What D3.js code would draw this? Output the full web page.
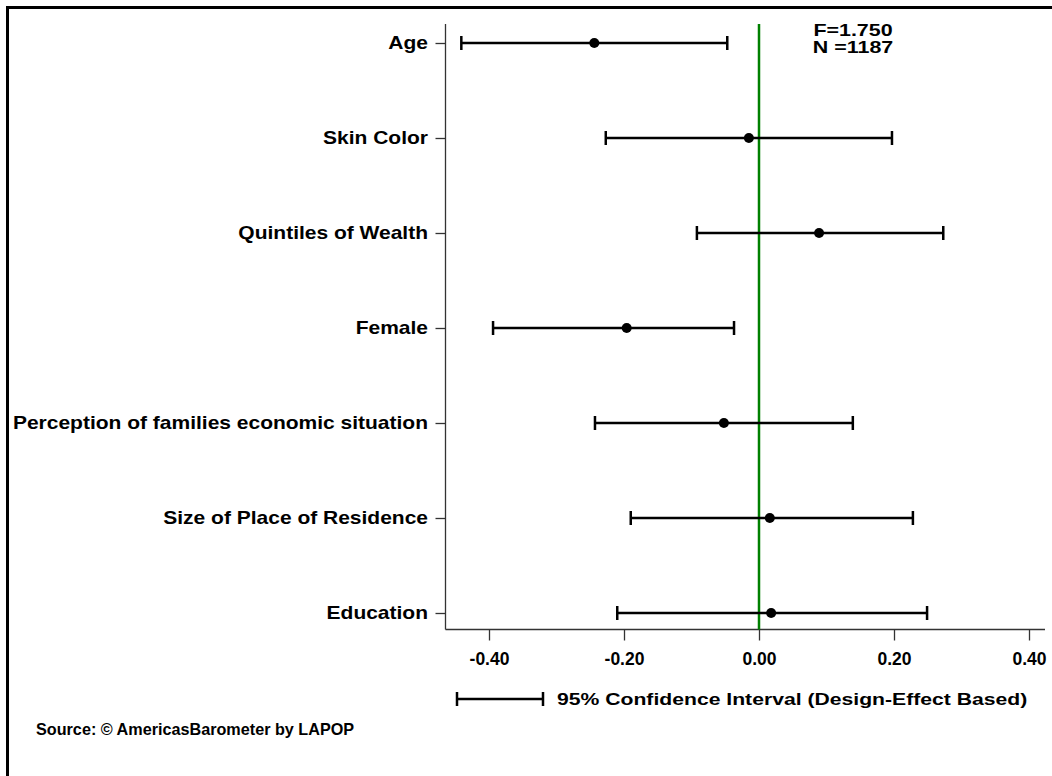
<!DOCTYPE html>
<html><head><meta charset="utf-8">
<script src="https://cdn.jsdelivr.net/npm/d3@7"></script>
<style>body{margin:0;background:#fff}svg{display:block}text{font-family:"Liberation Sans",Arial,sans-serif;font-weight:bold;fill:#000}</style>
</head><body><svg id="c" width="1052" height="776"></svg>
<script>
const categories = ["Age","Skin Color","Quintiles of Wealth","Female","Perception of families economic situation","Size of Place of Residence","Education"];
const estimates = [-0.244,-0.015,0.089,-0.196,-0.052,0.016,0.018];
const lower = [-0.441,-0.227,-0.092,-0.394,-0.243,-0.190,-0.210];
const upper = [-0.047,0.197,0.273,-0.037,0.139,0.228,0.249];
const xTicks = [-0.4,-0.2,0,0.2,0.4];
const statLines = ["F=1.750","N =1187"];
const legendText = "95% Confidence Interval (Design-Effect Based)";
const sourceText = "Source: \u00A9 AmericasBarometer by LAPOP";

const svg = d3.select("#c");
function wideText(parent, tx, ty, str, size, sx, anchor){
  return parent.append("text")
    .attr("transform",`translate(${tx},${ty}) scale(${sx},1)`)
    .attr("text-anchor",anchor||"start")
    .style("font-size",size+"px").text(str);
}
// frame
svg.append("line").attr("x1",7).attr("x2",1052).attr("y1",7.5).attr("y2",7.5).attr("stroke","#000").attr("stroke-width",3);
svg.append("line").attr("x1",7.5).attr("x2",7.5).attr("y1",6).attr("y2",776).attr("stroke","#000").attr("stroke-width",3);

const x = d3.scaleLinear().domain([-0.4,0.4]).range([489,1029]);
const y = d3.scalePoint().domain(categories).range([43,613]);
const axLeft = 445.5, axBottom = 629.5, axTop = 24, axRight = 1045;

// x axis
const gx = svg.append("g").attr("transform",`translate(0,${axBottom})`)
  .call(d3.axisBottom(x).tickValues(xTicks).tickFormat(d=>d3.format(".2f")(d).replace("\u2212","-")).tickSize(11).tickPadding(12));
gx.select(".domain").remove();
gx.selectAll(".tick line").attr("stroke","#333").attr("stroke-width",1.3);
gx.selectAll(".tick text").style("font-size","17.5px").attr("dy","0.71em");
svg.append("line").attr("x1",axLeft).attr("x2",axRight).attr("y1",axBottom).attr("y2",axBottom).attr("stroke","#333").attr("stroke-width",1.3);

// y axis
const gy = svg.append("g").attr("transform",`translate(${axLeft},0)`)
  .call(d3.axisLeft(y).tickSize(10).tickFormat(""));
gy.select(".domain").remove();
gy.selectAll(".tick line").attr("stroke","#333").attr("stroke-width",1.3);
categories.forEach(c=>{
  wideText(svg, 428, y(c)+6, c, 17.5, 1.2, "end");
});
svg.append("line").attr("x1",axLeft).attr("x2",axLeft).attr("y1",axTop).attr("y2",axBottom).attr("stroke","#333").attr("stroke-width",1.3);

// zero line
svg.append("line").attr("x1",x(0)).attr("x2",x(0)).attr("y1",axTop).attr("y2",axBottom).attr("stroke","#008000").attr("stroke-width",2.5);

// CIs
const rows = categories.map((c,i)=>({c,est:estimates[i],lo:lower[i],hi:upper[i]}));
const g = svg.append("g");
rows.forEach(r=>{
  const yy = y(r.c);
  g.append("line").attr("x1",x(r.lo)).attr("x2",x(r.hi)).attr("y1",yy).attr("y2",yy).attr("stroke","#000").attr("stroke-width",2.5);
  [r.lo,r.hi].forEach(v=>g.append("line").attr("x1",x(v)).attr("x2",x(v)).attr("y1",yy-7).attr("y2",yy+7).attr("stroke","#000").attr("stroke-width",2.5));
  g.append("circle").attr("cx",x(r.est)).attr("cy",yy).attr("r",5).attr("fill","#000");
});

// stats
wideText(svg, 853, 36, statLines[0], 16, 1.34, "middle");
wideText(svg, 853, 53, statLines[1], 16, 1.34, "middle");

// legend
const ly = 699;
svg.append("line").attr("x1",457).attr("x2",543).attr("y1",ly).attr("y2",ly).attr("stroke","#000").attr("stroke-width",2.5);
[457,543].forEach(v=>svg.append("line").attr("x1",v).attr("x2",v).attr("y1",ly-7).attr("y2",ly+7).attr("stroke","#000").attr("stroke-width",2.5));
wideText(svg, 557, ly+6, legendText, 17, 1.245, "start");

svg.append("text").attr("x",36).attr("y",735).style("font-size","16.2px").text(sourceText);
</script></body></html>
